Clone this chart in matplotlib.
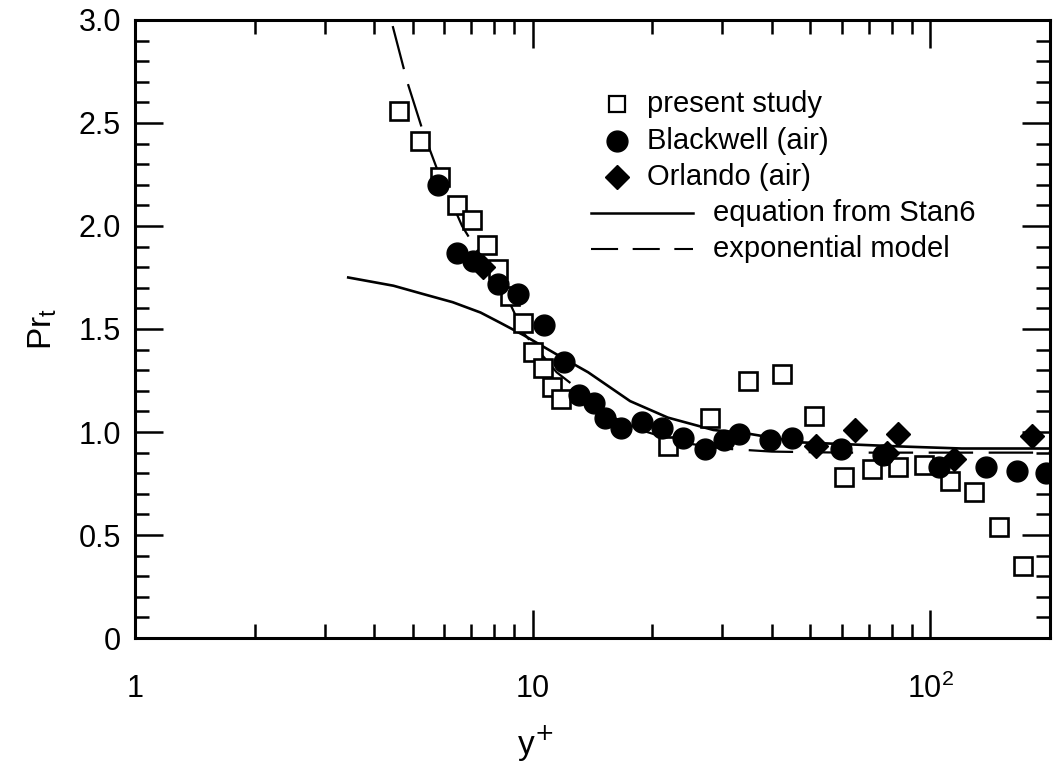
import matplotlib
matplotlib.use("Agg")
import matplotlib.pyplot as plt
from matplotlib.ticker import FixedLocator, MultipleLocator

plt.rcParams['font.family'] = ['Liberation Sans', 'DejaVu Sans']

# present study (open squares)
study_x = [4.62, 5.22, 5.86, 6.47, 7.06, 7.7, 8.21, 8.8, 9.49, 10.0, 10.6, 11.2, 11.8,
           21.9, 27.9, 34.8, 42.4, 51.0, 60.7, 71.4, 83.0, 96.6, 112, 129, 149, 171]
study_y = [2.56, 2.41, 2.24, 2.10, 2.03, 1.91, 1.79, 1.66, 1.53, 1.39, 1.31, 1.22, 1.16,
           0.93, 1.07, 1.25, 1.28, 1.08, 0.78, 0.82, 0.83, 0.84, 0.76, 0.71, 0.54, 0.35]

# Blackwell (air), filled circles
black_x = [5.77, 6.47, 7.10, 8.21, 9.22, 10.7, 12.0, 13.1, 14.3, 15.2, 16.7, 18.8, 21.2,
           23.9, 27.1, 30.3, 33.0, 39.5, 44.9, 59.7, 76.2, 105, 138, 165, 196]
black_y = [2.20, 1.87, 1.83, 1.72, 1.67, 1.52, 1.34, 1.18, 1.14, 1.07, 1.02, 1.05, 1.02,
           0.97, 0.92, 0.96, 0.99, 0.96, 0.97, 0.92, 0.89, 0.83, 0.83, 0.81, 0.80]

# Orlando (air), filled diamonds
orl_x = [7.5, 51.6, 64.7, 78.0, 83.0, 115, 180]
orl_y = [1.80, 0.93, 1.01, 0.90, 0.99, 0.87, 0.98]

# equation from Stan6 (solid)
stan_x = [3.44, 4.47, 5.3, 6.3, 7.4, 8.3, 9.5, 11.9, 13.8, 17.6, 21.9, 28.5, 35.4, 47, 63, 84, 120, 200]
stan_y = [1.75, 1.71, 1.67, 1.63, 1.58, 1.53, 1.47, 1.36, 1.29, 1.15, 1.07, 1.01, 0.99, 0.95, 0.94, 0.93, 0.92, 0.92]

# exponential model (dashed)
exp_x = [4.45, 4.84, 5.3, 5.77, 6.65, 7.0, 8.6, 9.2, 9.5, 11.5, 13.2, 16.0, 18.7, 23.5, 30, 40, 60, 100, 200]
exp_y = [2.97, 2.70, 2.46, 2.27, 2.00, 1.93, 1.66, 1.54, 1.48, 1.29, 1.20, 1.07, 1.01, 0.95, 0.92, 0.905, 0.90, 0.90, 0.90]

y_ticks = [0, 0.5, 1.0, 1.5, 2.0, 2.5, 3.0]
y_labels = ['0', '0.5', '1.0', '1.5', '2.0', '2.5', '3.0']
x_ticks = [1, 10, 100]
x_labels = ['1', '10', r'$\mathregular{10^2}$']

fig = plt.figure(figsize=(10.54, 7.66), dpi=100)
ax = fig.add_axes([0.128, 0.167, 0.868, 0.807])

dash = (0, (20, 7))
ax.plot(stan_x, stan_y, color='black', lw=1.9)
ax.plot(exp_x, exp_y, color='black', lw=1.6, linestyle=dash)
ax.plot(study_x, study_y, 's', ms=12.5, mfc='white', mec='black', mew=1.9)
ax.plot(black_x, black_y, 'o', ms=15, color='black')
ax.plot(orl_x, orl_y, 'D', ms=12, color='black')

ax.set_xscale('log')
ax.set_xlim(1, 200)
ax.set_ylim(0, 3.0)

ax.set_xticks(x_ticks, x_labels)
ax.xaxis.set_minor_locator(FixedLocator([2, 3, 4, 5, 6, 7, 8, 9, 20, 30, 40, 50, 60, 70, 80, 90]))
ax.xaxis.set_minor_formatter(plt.NullFormatter())
ax.set_yticks(y_ticks, y_labels)
ax.yaxis.set_minor_locator(MultipleLocator(0.1))

ax.tick_params(which='both', direction='in', top=True, right=True, labelsize=22, width=1.8)
ax.tick_params(which='major', length=20)
ax.tick_params(which='minor', length=10)
ax.tick_params(axis='x', which='major', pad=26)
ax.tick_params(axis='y', which='major', pad=10)
for s in ax.spines.values():
    s.set_linewidth(2.2)

ax.set_xlabel(r'y$^{+}$', fontsize=24, va='center')
ax.xaxis.set_label_coords(0.437, -0.172)
ax.set_ylabel(r'Pr$_\mathregular{t}$', fontsize=24, labelpad=14)

# hand-placed key, as in the original figure
rows = [0.864, 0.804, 0.746, 0.688, 0.630]
tx = ax.transAxes
ax.plot([0.527], [rows[0]], 's', ms=11, mfc='white', mec='black', mew=1.6, transform=tx)
ax.plot([0.527], [rows[1]], 'o', ms=15, color='black', transform=tx)
ax.plot([0.527], [rows[2]], 'D', ms=12, color='black', transform=tx)
ax.plot([0.499, 0.610], [rows[3]] * 2, color='black', lw=1.8, transform=tx)
ax.plot([0.499, 0.610], [rows[4]] * 2, color='black', lw=1.5, linestyle=(0, (13, 7)), transform=tx)
labels = ['present study', 'Blackwell (air)', 'Orlando (air)', 'equation from Stan6', 'exponential model']
for i, lab in enumerate(labels):
    x0 = 0.560 if i < 3 else 0.632
    ax.text(x0, rows[i], lab, transform=tx, fontsize=21, va='center', ha='left')

fig.savefig('out.png', dpi=100, facecolor='white')
